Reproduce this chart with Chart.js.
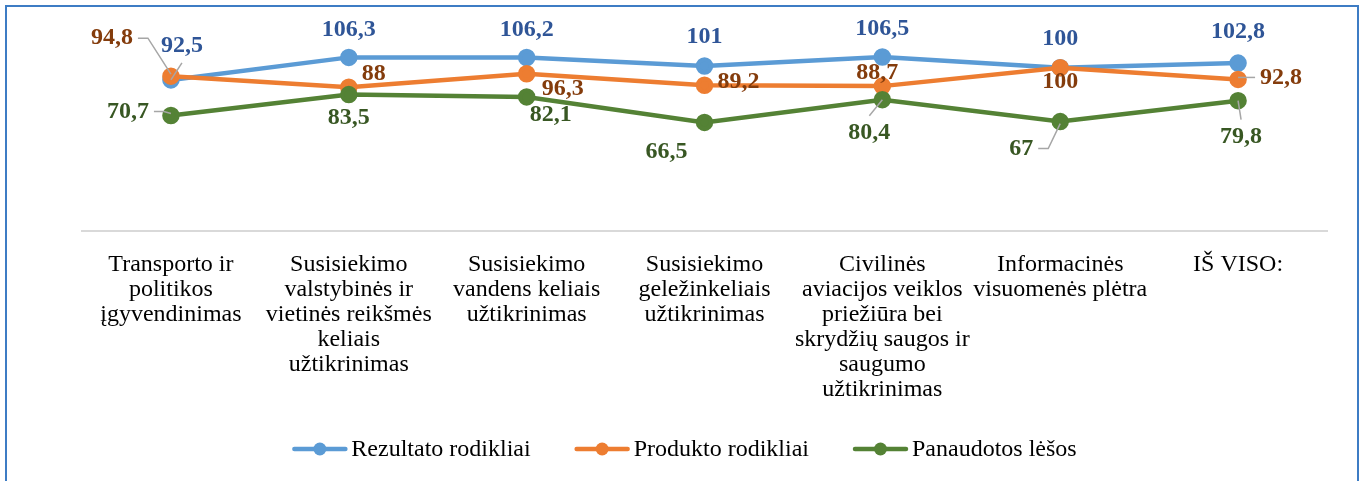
<!DOCTYPE html>
<html>
<head>
<meta charset="utf-8">
<script src="https://cdn.jsdelivr.net/npm/chart.js@4.4.1/dist/chart.umd.min.js"></script>
<style>
  body { margin: 0; background: #fff; }
  #wrap { position: relative; width: 1361px; height: 481px; overflow: hidden; }
  #frame { position: absolute; left: 5px; top: 5px; width: 1350px; height: 500px;
           border: 2px solid #3D7CC4; pointer-events: none; }
</style>
</head>
<body>
<div id="wrap">
  <canvas id="line"></canvas>
  <div id="frame"></div>
</div>
<script>
const categories = [
  ["Transporto ir", "politikos", "įgyvendinimas"],
  ["Susisiekimo", "valstybinės ir", "vietinės reikšmės", "keliais", "užtikrinimas"],
  ["Susisiekimo", "vandens keliais", "užtikrinimas"],
  ["Susisiekimo", "geležinkeliais", "užtikrinimas"],
  ["Civilinės", "aviacijos veiklos", "priežiūra bei", "skrydžių saugos ir", "saugumo", "užtikrinimas"],
  ["Informacinės", "visuomenės plėtra"],
  ["IŠ VISO:"],
];
const rezultato = [92.5, 106.3, 106.2, 101, 106.5, 100, 102.8];
const produkto = [94.8, 88, 96.3, 89.2, 88.7, 100, 92.8];
const panaudotos = [70.7, 83.5, 82.1, 66.5, 80.4, 67, 79.8];
const seriesNames = ["Rezultato rodikliai", "Produkto rodikliai", "Panaudotos lėšos"];

// label placement relative to each point: [dx, dy, leader]
const labelPos = [
  [[11, -34, "v"], [0, -28], [0, -28], [0, -29], [0, -28], [0, -29], [0, -31]],
  [[-59, -38, "h"], [25, -13], [36, 15], [34, -4], [-5, -13], [0, 14], [43, -2, "h"]],
  [[-43, -4, "h"], [0, 23], [24, 18], [-38, 29], [-13, 33, "v"], [-39, 27, "h"], [3, 36, "v"]],
];

const font = '"Liberation Serif", "Times New Roman", serif';
const lineColors = ["#5B9BD5", "#ED7D31", "#548235"];
const labelColors = ["#2F5597", "#843C0C", "#385723"];

const fmt = (v) => String(v).replace(".", ",");

const valueLabels = {
  id: "valueLabels",
  afterDatasetsDraw(chart) {
    const ctx = chart.ctx;
    ctx.save();
    ctx.font = "bold 24px " + font;
    ctx.textAlign = "center";
    ctx.textBaseline = "middle";
    chart.data.datasets.forEach((ds, di) => {
      const meta = chart.getDatasetMeta(di);
      meta.data.forEach((pt, i) => {
        const [dx, dy, leader] = labelPos[di][i];
        const text = fmt(ds.data[i]);
        const lx = pt.x + dx, ly = pt.y + dy;
        const w = ctx.measureText(text).width;
        if (leader) {
          ctx.strokeStyle = "#A6A6A6";
          ctx.lineWidth = 1.5;
          ctx.beginPath();
          if (leader === "h") {
            const side = dx < 0 ? 1 : -1;
            const sx = lx + side * (w / 2 + 5);
            ctx.moveTo(sx, ly);
            ctx.lineTo(sx + side * 10, ly);
            ctx.lineTo(pt.x, pt.y + (ly < pt.y ? -2 : 2));
          } else {
            const sy = ly + (dy < 0 ? 17 : -17);
            ctx.moveTo(lx, sy);
            ctx.lineTo(pt.x, pt.y);
          }
          ctx.stroke();
        }
        ctx.fillStyle = labelColors[di];
        ctx.fillText(text, lx, ly);
      });
    });
    ctx.restore();
  },
};

const lineLegend = {
  id: "lineLegend",
  afterDraw(chart) {
    const ctx = chart.ctx;
    ctx.save();
    ctx.font = "24px " + font;
    ctx.textBaseline = "middle";
    const mark = 55, gap = 4, between = 44;
    const widths = seriesNames.map((n) => ctx.measureText(n).width);
    const total = widths.reduce((a, b) => a + b, 0) + 3 * (mark + gap) + 2 * between;
    let x = chart.width / 2 - total / 2 + 4;
    const y = 449;
    seriesNames.forEach((name, i) => {
      ctx.strokeStyle = lineColors[i];
      ctx.lineWidth = 4.5;
      ctx.lineCap = "round";
      ctx.beginPath();
      ctx.moveTo(x + 2, y);
      ctx.lineTo(x + mark - 2, y);
      ctx.stroke();
      ctx.fillStyle = lineColors[i];
      ctx.beginPath();
      ctx.arc(x + mark / 2, y, 6.5, 0, Math.PI * 2);
      ctx.fill();
      ctx.fillStyle = "#000";
      ctx.fillText(name, x + mark + gap, y + 1);
      x += mark + gap + widths[i] + between;
    });
    ctx.restore();
  },
};

function makeSet(label, data, i, order) {
  return {
    label: label,
    data: data,
    borderColor: lineColors[i],
    backgroundColor: lineColors[i],
    pointBackgroundColor: lineColors[i],
    pointBorderColor: lineColors[i],
    borderWidth: 4.5,
    pointRadius: 6.5,
    pointHoverRadius: 6.5,
    tension: 0,
    order: order,
  };
}

const ctxLine = document.getElementById("line").getContext("2d");

new Chart(ctxLine, {
  type: "line",
  data: {
    labels: categories,
    datasets: [
      makeSet(seriesNames[0], rezultato, 0, 3),
      makeSet(seriesNames[1], produkto, 1, 2),
      makeSet(seriesNames[2], panaudotos, 2, 1),
    ],
  },
  options: {
    responsive: true,
    maintainAspectRatio: false,
    animation: false,
    layout: { padding: { left: 82, right: 34, top: 35, bottom: 70 } },
    plugins: {
      legend: { display: false },
      tooltip: { enabled: false },
    },
    scales: {
      x: {
        offset: true,
        grid: { display: false, drawTicks: false },
        border: { display: true, color: "#D9D9D9", width: 2 },
        ticks: {
          color: "#000",
          font: { family: font, size: 24, lineHeight: 1.04 },
          padding: 21,
          maxRotation: 0,
          minRotation: 0,
          autoSkip: false,
        },
        afterFit(scale) { scale.height = 180; },
      },
      y: {
        display: false,
        min: 0,
        max: 120,
      },
    },
  },
  plugins: [valueLabels, lineLegend],
});
</script>
</body>
</html>
